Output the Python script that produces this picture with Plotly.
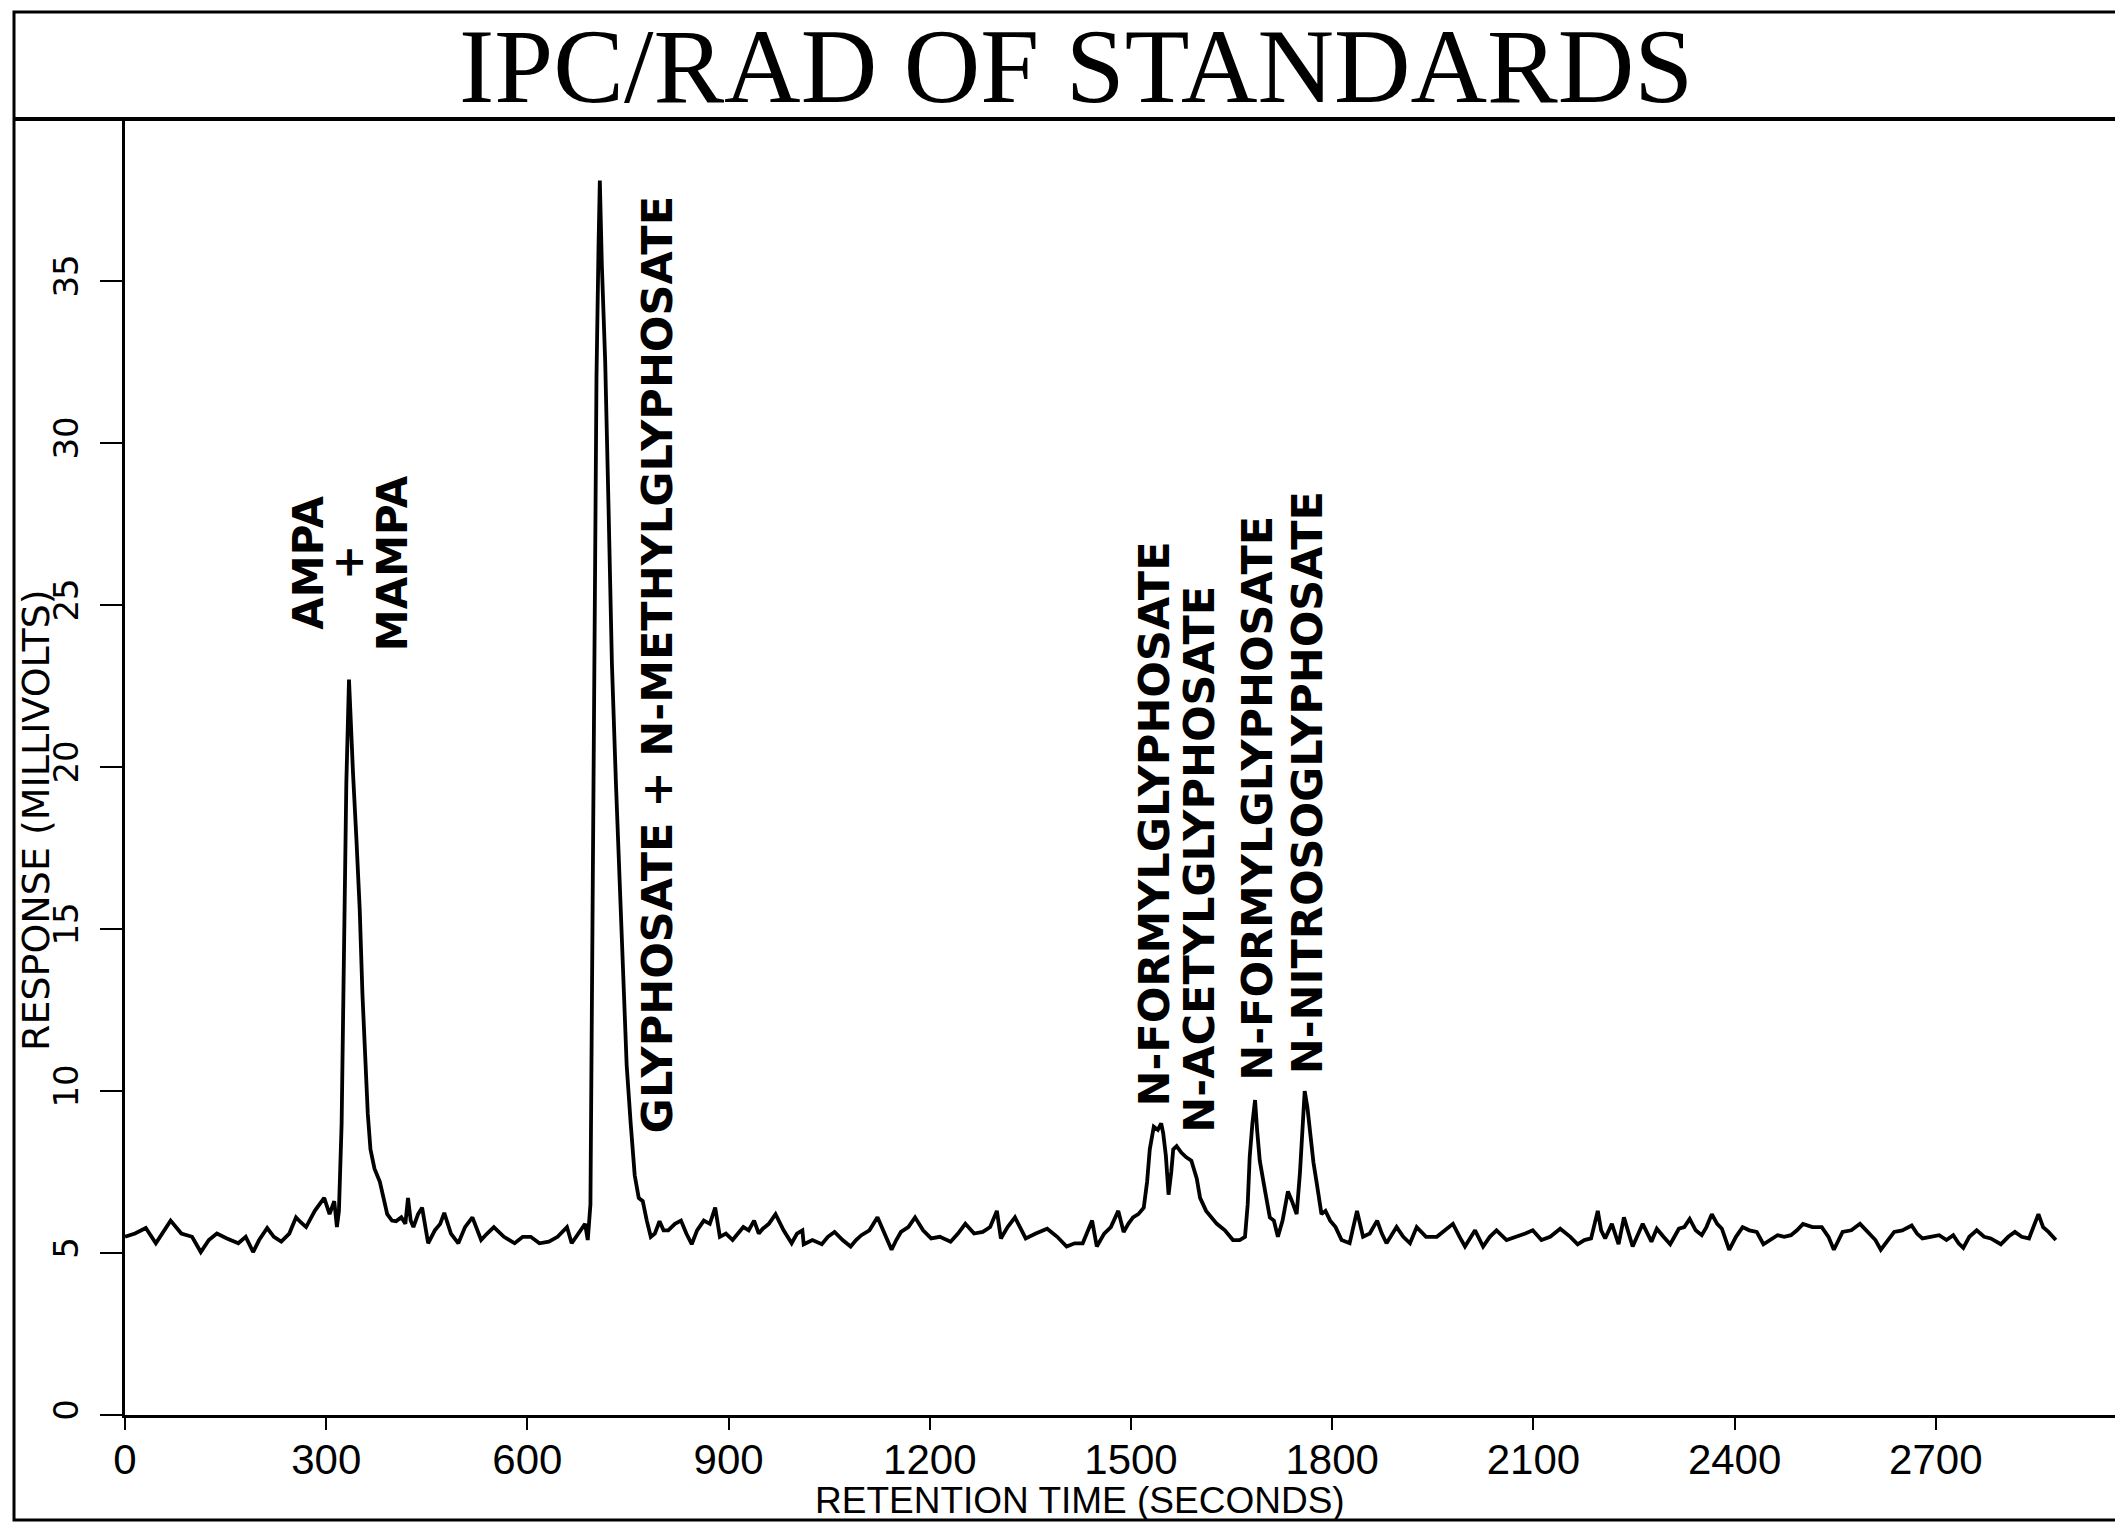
import plotly.graph_objects as go

# ---- data ----
time_s = [0, 15, 31, 46, 68, 84, 100, 113, 125, 137, 152, 169, 180, 191, 200, 212, 222, 233, 245, 255,
          262, 270, 283, 297, 305, 312, 316, 319,
          323, 327, 330, 334, 337, 340, 345, 350, 354, 358, 362, 366, 372, 380, 386, 391, 398, 404, 412,
          418, 422, 426, 430, 437, 443, 452, 462, 470, 476, 486, 497, 507, 518, 531, 540, 550, 565, 581,
          593, 605, 618, 632, 645, 659, 666, 676, 686, 690,
          694, 697, 700, 703, 706, 708, 711, 716, 721, 726, 732, 738, 743, 748, 754, 760, 766, 772, 778,
          784, 790, 797, 803, 810, 820, 829, 837, 845, 853, 863, 872, 880, 887, 896, 906, 914, 922, 930,
          938, 945, 951, 960, 970, 982, 994, 1002, 1010, 1012, 1025, 1039, 1048, 1058, 1070, 1082, 1090,
          1098, 1110, 1122, 1132, 1143, 1150, 1157, 1168, 1178, 1190, 1202, 1215, 1231, 1242, 1253, 1266,
          1279, 1290, 1300, 1306, 1316, 1327, 1335, 1343, 1358, 1375, 1390, 1404, 1416, 1428, 1442, 1449,
          1460, 1470, 1481, 1489, 1496, 1503, 1511, 1519, 1524, 1528, 1534, 1540, 1545, 1548, 1552, 1556,
          1560, 1563, 1568, 1575, 1582, 1590, 1598, 1603, 1612, 1620, 1628, 1640, 1652, 1662, 1670, 1674,
          1677, 1681, 1685, 1688, 1692, 1700, 1707, 1713, 1719, 1726, 1734, 1740, 1747, 1752, 1756, 1759,
          1763, 1767, 1772, 1777, 1784, 1790, 1797, 1805, 1814, 1826, 1837, 1846, 1856, 1867, 1874, 1881,
          1896, 1906, 1916, 1926, 1940, 1956, 1968, 1980, 1990, 1998, 2013, 2025, 2035, 2045, 2060, 2075,
          2088, 2099, 2112, 2125, 2140, 2155, 2166, 2176, 2186, 2196, 2201, 2207, 2217, 2227, 2235, 2248,
          2256, 2263, 2276, 2284, 2294, 2304, 2317, 2325, 2333, 2342, 2351, 2358, 2366, 2374, 2381, 2392,
          2402, 2412, 2422, 2433, 2443, 2453, 2464, 2474, 2484, 2493, 2502, 2516, 2530, 2540, 2548, 2561,
          2574, 2587, 2602, 2610, 2618, 2628, 2638, 2650, 2664, 2672, 2680, 2692, 2705, 2716, 2726, 2734,
          2741, 2750, 2761, 2772, 2782, 2797, 2808, 2818, 2828, 2839, 2846, 2853, 2860, 2868, 2879]

response_mv = [5.5, 5.6, 5.77, 5.3, 6.0, 5.6, 5.5, 5.03, 5.4, 5.6, 5.45, 5.3, 5.5, 5.03, 5.4, 5.77, 5.5, 5.35, 5.6, 6.1,
               5.95, 5.8, 6.3, 6.7, 6.2, 6.6, 5.8, 6.3,
               9.0, 14.5, 19.5, 22.7, 21.0, 19.8, 17.8, 15.6, 13.0, 10.9, 9.3, 8.2, 7.6, 7.2, 6.7, 6.2, 6.0, 5.98, 6.1,
               5.9, 6.7, 6.0, 5.8, 6.2, 6.4, 5.3, 5.7, 5.9, 6.24, 5.6, 5.3, 5.8, 6.1, 5.4, 5.6, 5.8, 5.5, 5.3,
               5.5, 5.5, 5.3, 5.35, 5.5, 5.8, 5.3, 5.6, 5.9, 5.4,
               6.5, 15.0, 26.0, 32.0, 36.0, 38.1, 35.5, 32.5, 28.0, 23.2, 19.5, 16.4, 13.5, 10.8, 9.0, 7.4, 6.7, 6.6, 6.0,
               5.5, 5.6, 5.98, 5.7, 5.7, 5.9, 6.0, 5.6, 5.27, 5.7, 6.0, 5.9, 6.4, 5.5, 5.6, 5.4, 5.6, 5.8, 5.7,
               6.0, 5.6, 5.75, 5.9, 6.2, 5.7, 5.3, 5.6, 5.7, 5.27, 5.4, 5.27, 5.5, 5.65, 5.4, 5.2, 5.4,
               5.55, 5.7, 6.1, 5.6, 5.1, 5.4, 5.65, 5.8, 6.1, 5.7, 5.45, 5.5, 5.35, 5.6, 5.9, 5.6,
               5.65, 5.8, 6.3, 5.45, 5.8, 6.1, 5.8, 5.45, 5.6, 5.75, 5.5, 5.2, 5.3, 5.3, 6.0, 5.2,
               5.6, 5.8, 6.3, 5.65, 5.9, 6.1, 6.2, 6.4, 7.2, 8.2, 8.9, 8.8, 9.0, 8.7, 8.0, 6.8,
               7.5, 8.2, 8.3, 8.1, 7.96, 7.85, 7.3, 6.7, 6.3, 6.1, 5.9, 5.7, 5.4, 5.4, 5.5, 6.5,
               7.97, 9.0, 9.72, 8.8, 7.85, 6.9, 6.1, 6.0, 5.5, 6.0, 6.9, 6.6, 6.2, 7.5, 9.2, 10.0,
               9.5, 8.7, 7.8, 7.15, 6.2, 6.3, 6.0, 5.8, 5.4, 5.3, 6.3, 5.5, 5.6, 6.0, 5.6, 5.3,
               5.8, 5.5, 5.3, 5.8, 5.5, 5.5, 5.7, 5.9, 5.5, 5.2, 5.7, 5.2, 5.5, 5.7, 5.4, 5.5,
               5.6, 5.7, 5.4, 5.5, 5.75, 5.5, 5.27, 5.4, 5.45, 6.3, 5.7, 5.45, 5.9, 5.27, 6.1, 5.2,
               5.6, 5.9, 5.35, 5.75, 5.5, 5.27, 5.75, 5.8, 6.05, 5.7, 5.55, 5.8, 6.2, 5.9, 5.75, 5.1,
               5.5, 5.8, 5.7, 5.65, 5.27, 5.4, 5.55, 5.5, 5.55, 5.7, 5.9, 5.8, 5.8, 5.5, 5.1, 5.65,
               5.7, 5.9, 5.6, 5.4, 5.1, 5.4, 5.65, 5.7, 5.85, 5.6, 5.45, 5.5, 5.55, 5.4, 5.55, 5.3,
               5.16, 5.5, 5.7, 5.5, 5.45, 5.27, 5.5, 5.65, 5.5, 5.45, 5.8, 6.2, 5.8, 5.65, 5.4]

x_ticks = [0, 300, 600, 900, 1200, 1500, 1800, 2100, 2400, 2700]
y_ticks = [0, 5, 10, 15, 20, 25, 30, 35]

peak_labels = ["GLYPHOSATE + N-METHYLGLYPHOSATE", "N-FORMYLGLYPHOSATE", "N-ACETYLGLYPHOSATE",
               "N-FORMYLGLYPHOSATE", "N-NITROSOGLYPHOSATE"]
peak_label_x = [793, 1534, 1600, 1688, 1762]
peak_label_y = [8.64, 9.47, 8.64, 10.24, 10.46]

ampa_labels = ["AMPA", "+", "MAMPA"]
ampa_label_x = [274, 334, 400]
ampa_label_y = [26.3, 26.3, 26.3]

title_text = "IPC/RAD OF STANDARDS"
x_title = "RETENTION TIME (SECONDS)"
y_title = "RESPONSE (MILLIVOLTS)"

# ---- layout geometry (page body adds an 8px offset) ----
OFF = 8
W, H = 2123 - OFF, 1523 - OFF
ML, MR = 125 - OFF, 5
MT = 119 - OFF
MB = H - (1415 - OFF)
PW = W - ML - MR
PH = H - MT - MB


def px2paper_x(px):
    return (px - 125) / PW


def px2paper_y(py):
    return (1415 - py) / PH


SANS = "Liberation Sans, Arial, sans-serif"

fig = go.Figure()
fig.add_trace(go.Scatter(x=time_s, y=response_mv, mode="lines",
                         line=dict(color="black", width=3.8),
                         showlegend=False, hoverinfo="skip"))

annotations = []
for t, xv, yv in zip(peak_labels, peak_label_x, peak_label_y):
    annotations.append(dict(x=xv, y=yv, xref="x", yref="y", text=t, textangle=-90,
                            showarrow=False, xanchor="center", yanchor="bottom",
                            font=dict(family="DejaVu Sans", size=43, color="black", weight="bold")))
for t, xv, yv in zip(ampa_labels, ampa_label_x, ampa_label_y):
    annotations.append(dict(x=xv, y=yv, xref="x", yref="y", text=t, textangle=-90,
                            showarrow=False, xanchor="center", yanchor="middle",
                            font=dict(family="DejaVu Sans", size=42, color="black", weight="bold")))

annotations.append(dict(x=px2paper_x(1076), y=px2paper_y(66), xref="paper", yref="paper",
                        text=title_text, showarrow=False, xanchor="center", yanchor="middle",
                        font=dict(family="Liberation Serif", size=106, color="black")))
annotations.append(dict(x=px2paper_x(1080), y=px2paper_y(1500), xref="paper", yref="paper",
                        text=x_title, showarrow=False, xanchor="center", yanchor="middle",
                        font=dict(family=SANS, size=37, color="black")))
annotations.append(dict(x=px2paper_x(36), y=px2paper_y(820), xref="paper", yref="paper",
                        text=y_title, showarrow=False, xanchor="center", yanchor="middle",
                        textangle=-90,
                        font=dict(family="DejaVu Sans", size=38, color="black")))

shapes = [
    # outer frame
    dict(type="rect", xref="paper", yref="paper",
         x0=px2paper_x(14), x1=px2paper_x(2120), y0=px2paper_y(1520), y1=px2paper_y(12),
         line=dict(color="black", width=3), fillcolor="rgba(0,0,0,0)", layer="above"),
    # title box bottom / plot top line
    dict(type="line", xref="paper", yref="paper",
         x0=px2paper_x(14), x1=px2paper_x(2120), y0=1, y1=1,
         line=dict(color="black", width=4), layer="above"),
]

fig.update_layout(
    width=W, height=H,
    margin=dict(l=ML, r=MR, t=MT, b=MB, autoexpand=False),
    paper_bgcolor="white", plot_bgcolor="white",
    showlegend=False,
    annotations=annotations,
    shapes=shapes,
    xaxis=dict(range=[0, PW / (201.2 / 300)], tickvals=x_ticks,
               ticktext=[str(v) for v in x_ticks],
               showgrid=False, zeroline=False, showline=True, linecolor="black", linewidth=3,
               ticks="outside", ticklen=12, tickwidth=2, tickcolor="black",
               ticklabelstandoff=-6,
               tickfont=dict(family=SANS, size=42, color="black"), fixedrange=True),
    yaxis=dict(range=[0, 40], tickvals=y_ticks, ticktext=[str(v) for v in y_ticks],
               tickangle=-90,
               showgrid=False, zeroline=False, showline=True, linecolor="black", linewidth=3,
               ticks="outside", ticklen=22, tickwidth=2, tickcolor="black",
               ticklabelstandoff=8,
               tickfont=dict(family="DejaVu Sans", size=34, color="black"), fixedrange=True),
)

fig.write_html("out.html")
